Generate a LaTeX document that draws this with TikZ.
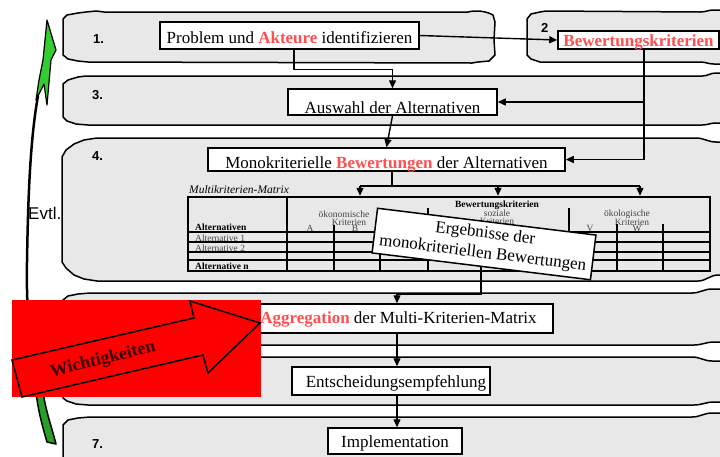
\documentclass[tikz,border=0pt]{standalone}
\usepackage{fontspec}
\setmainfont{Liberation Serif}
\newfontfamily\arialf{Liberation Sans}
\usetikzlibrary{arrows.meta}
\definecolor{bandgray}{RGB}{232,232,232}
\definecolor{redtxt}{RGB}{255,80,80}
\definecolor{greenhead}{RGB}{51,204,51}
\definecolor{greentail}{RGB}{40,160,40}
\definecolor{mattxt}{RGB}{70,70,70}
\definecolor{wtxt}{RGB}{60,0,0}
\begin{document}
\begin{tikzpicture}[x=1pt,y=-1pt,
 band/.style={fill=bandgray,draw=black,line width=1.5pt,line join=round},
 box/.style={draw=black,fill=white,line width=1.5pt,inner sep=0pt,font=\fontsize{17}{20}\selectfont},
 conn/.style={line width=1.4pt},
 arr/.style={conn,-{Triangle[length=8pt,width=7pt]}},
 steplbl/.style={font=\arialf\bfseries\fontsize{13}{15}\selectfont,anchor=base west,inner sep=0pt},
 mtxt/.style={font=\fontsize{9.5}{10}\selectfont,inner sep=0pt,anchor=base,text=mattxt},
 mbold/.style={font=\bfseries\fontsize{9.5}{10}\selectfont,inner sep=0pt,anchor=base,text=black},
 mline/.style={line width=2pt},
 mthick/.style={line width=2.8pt},
]
\clip (0,0) rectangle (720,456);
\fill[white] (0,0) rectangle (720,456);

% bands
\path[band] (63,19) -- (67,15) -- (78,13) -- (86,12) -- (96,11) -- (104,12) -- (468,12) .. controls (476,10) and (486,11) .. (493,15) -- (495,22) -- (494,40) -- (495,55) -- (489,61) -- (478,62) -- (472,63) -- (88,62) -- (78,61) -- (68,59) -- (63,55) -- cycle;
\path[band] (527,19) -- (531,14) -- (540,12) -- (546,11) -- (700,12) .. controls (706,12) and (708,10) .. (714,10) -- (730,10) -- (730,64) -- (714,64) .. controls (708,64) and (706,62) .. (700,62) -- (540,62) -- (531,59) -- (527,55) -- cycle;
\path[band] (63,84) -- (68,80) -- (78,77) -- (86,76) -- (702,76) .. controls (708,76) and (710,73) .. (716,73) -- (730,73) -- (730,123) -- (716,123) .. controls (710,123) and (708,125) .. (702,125) -- (88,125) -- (76,124) -- (67,121) -- (63,117) -- cycle;
\path[band] (62,157) -- (66,150) -- (74,144) -- (84,140) -- (97,138) -- (696,138) .. controls (704,138) and (708,142) .. (716,142) -- (730,142) -- (730,275) -- (718,275) .. controls (710,275) and (706,281) .. (698,281) -- (97,281) -- (84,279) -- (74,275) -- (66,268) -- (62,262) -- cycle;
\path[band] (63,300) -- (68,296) -- (78,294) -- (90,293) -- (692,293) .. controls (700,293) and (704,289) .. (712,289) -- (730,289) -- (730,342) -- (714,342) .. controls (706,342) and (702,345) .. (694,345) -- (90,345) -- (76,344) -- (67,341) -- (63,337) -- cycle;
\path[band] (63,364) -- (68,360) -- (78,358) -- (90,357) -- (692,357) .. controls (700,357) and (704,361) .. (712,361) -- (730,361) -- (730,402) -- (714,402) .. controls (706,402) and (702,405) .. (694,405) -- (88,405) -- (76,404) -- (67,401) -- (63,398) -- cycle;
\path[band] (63,425) -- (68,420) -- (78,418) -- (90,417) -- (692,417) .. controls (700,417) and (704,413) .. (712,413) -- (730,413) -- (730,470) -- (63,470) -- cycle;

% step labels
\node[steplbl] (l1) at (93,43) {1.};
\node[steplbl] (l2) at (541,32) {2};
\node[steplbl] (l3) at (92,99) {3.};
\node[steplbl] (l4) at (92,160) {4.};
\node[steplbl] (l7) at (92,448) {7.};

% boxes
\node[box,minimum width=259pt,minimum height=27pt,text height=21pt,text depth=6pt] (n1) at (289.5,35.5) {Problem und \textcolor{redtxt}{\textbf{Akteure}} identifizieren};
\node[box,minimum width=161pt,minimum height=18pt,text height=15pt,text depth=3pt] (n2) at (638.5,40) {\textcolor{redtxt}{\textbf{Bewertungskriterien}}};
\node[box,minimum width=209pt,minimum height=26pt,text height=24pt,text depth=2pt] (n3) at (392.5,102) {Auswahl der Alternativen};
\node[box,minimum width=357pt,minimum height=23pt,text height=20pt,text depth=3pt] (n4) at (386.5,159.5) {Monokriterielle \textcolor{redtxt}{\textbf{Bewertungen}} der Alternativen};
\node[box,minimum width=295pt,minimum height=29pt,text height=19pt,text depth=10pt] (n5) at (405.5,318.5) {\textcolor{redtxt}{\textbf{Aggregation}} der Multi-Kriterien-Matrix\hspace*{14pt}};
\node[box,minimum width=198pt,minimum height=28pt,text height=20pt,text depth=8pt] (n6) at (391,381) {\hspace*{10pt}Entscheidungsempfehlung};
\node[box,minimum width=134pt,minimum height=26pt,text height=19pt,text depth=7pt] (n7) at (395,441) {Implementation};

% matrix
\node[draw=black,line width=2.5pt,minimum width=522pt,minimum height=74pt,inner sep=0pt] (mat) at (449,234) {};
\node[font=\itshape\fontsize{11.5}{12}\selectfont,inner sep=0pt,anchor=base west] (mtitle) at (189,193) {Multikriterien-Matrix};
\node[mbold] (bk) at (497,207) {Bewertungskriterien};
\node[mtxt] (ok1) at (344,217) {ökonomische};
\node[mtxt] (ok2) at (349,225) {Kriterien};
\node[mtxt] (so1) at (497,216) {soziale};
\node[mtxt] (so2) at (497,224) {Kriterien};
\node[mtxt] (ol1) at (627,216) {ökologische};
\node[mtxt] (ol2) at (632,225) {Kriterien};
\node[mtxt] (ca) at (310,231) {A};
\node[mtxt] (cb) at (355,231) {B};
\node[mtxt] (cv) at (590,231) {V};
\node[mtxt] (cw) at (637,231) {W};
\node[mbold,anchor=base west] (ra) at (195,230) {Alternativen};
\node[mtxt,anchor=base west] (r1) at (195,241) {Alternative 1};
\node[mtxt,anchor=base west] (r2) at (195,251) {Alternative 2};
\node[mbold,anchor=base west] (rn) at (195,269) {Alternative n};
\draw[mthick] (287,197) -- (287,271);
\draw[mthick] (188,232) -- (710,232);
\draw[mline] (188,242) -- (710,242);
\draw[mline] (188,252) -- (710,252);
\draw[mline] (188,260) -- (710,260);
\draw[mline] (334,225) -- (334,271);
\draw[mline] (380,225) -- (380,271);
\draw[mthick] (428,208) -- (428,271);
\draw[mthick] (569,208) -- (569,271);
\draw[mline] (617,224) -- (617,271);
\draw[mline] (663,224) -- (663,271);

% connectors
\draw[arr] (n1.east) -- (n2.west);
\draw[arr] ([xshift=4.5pt]n1.south) -- ++(0,20) -| (n3.north);
\draw[arr] ([xshift=5.5pt]n2.south) |- (n3.east);
\draw[arr] ([xshift=5.5pt]n2.south) |- (n4.east);
\draw[arr] (n3.south) -- (n4.north);
\coordinate (sp) at (392,186);
\coordinate (spL) at (360,186);
\coordinate (spM) at (498,186);
\coordinate (spR) at (640,186);
\draw[conn] ([xshift=5.5pt]n4.south) -- (sp);
\draw[conn] (spL) -- (spR);
\draw[arr] (spL) -- (spL |- mat.north);
\draw[arr] (spM) -- (spM |- mat.north);
\draw[arr] (spR) -- (spR |- mat.north);

% Ergebnisse box
\node[box,rotate=-7,minimum width=220pt,minimum height=45pt,align=center] (n8) at (484,244) {Ergebnisse der\\monokriteriellen Bewertungen};

\coordinate (a5t) at ([xshift=-8.5pt]n5.north);
\coordinate (a5b) at ([xshift=-8.5pt]n5.south);
\coordinate (a6b) at ([xshift=6pt]n6.south);
\draw[arr] (n8.south) -- ++(0,27) -| (a5t);
\draw[arr] (a5b) -- (a5b |- n6.north);
\draw[arr] (a6b) -- (a6b |- n7.north);

% green curved arrow
\draw[black,line width=2.5pt] (40,394) .. controls (30,350) and (26,310) .. (27,262) .. controls (28,200) and (30,140) .. (38,96);
\draw[fill=greenhead,line width=1.2pt,line join=round] (47,20) -- (56,50) -- (51,60) -- (47,105) -- (44,84) -- (36,100) -- (39,80) -- (43,60) -- cycle;
\draw[fill=greentail,line width=1.5pt,line join=round] (36,392) .. controls (38,410) and (42,425) .. (47,442) -- (56,444) .. controls (52,428) and (46,412) .. (43,392) -- cycle;

% red Wichtigkeiten block
\fill[red] (12,300) rectangle (261,397);
\draw[fill=red,line width=1.5pt,line join=miter] (12,360) -- (194,318) -- (190,301) -- (260,323) -- (208,373) -- (203,355) -- (22,397) -- cycle;
\node[font=\bfseries\fontsize{18}{20}\selectfont,text=wtxt,rotate=14,inner sep=0pt] (wt) at (103,360) {Wichtigkeiten};

\node[font=\arialf\fontsize{17}{20}\selectfont,inner sep=0pt,anchor=base west] (evtl) at (28,219) {Evtl.};
\end{tikzpicture}
\end{document}
